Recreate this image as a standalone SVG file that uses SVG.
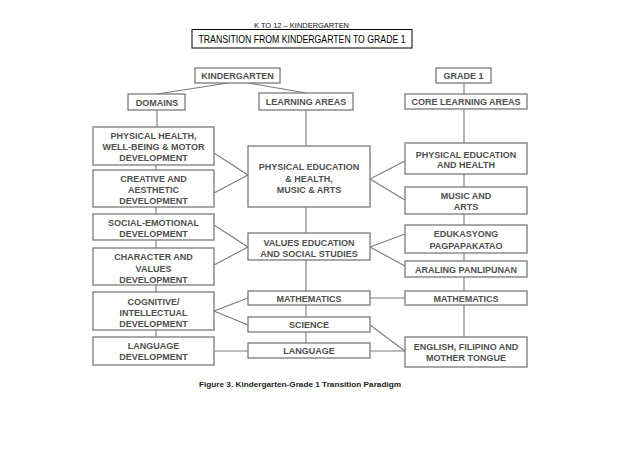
<svg xmlns="http://www.w3.org/2000/svg" width="638" height="452" viewBox="0 0 638 452">
<style>
.bg{fill:#fff}
.box{fill:#fff;stroke:#7a7a7a;stroke-width:1.3}
.tbox{fill:#fff;stroke:#000;stroke-width:1}
.lbl{font-family:"Liberation Sans",Arial,sans-serif;font-weight:bold;font-size:9px;fill:#505050;text-anchor:middle}
.con line,.con polyline{stroke:#7a7a7a;stroke-width:1.1;fill:none}
.hdr{font-family:"Liberation Sans",Arial,sans-serif;font-size:7.5px;fill:#111;text-anchor:middle}
.ttl{font-family:"Liberation Sans",Arial,sans-serif;font-size:11px;fill:#000;text-anchor:middle}
.cap{font-family:"Liberation Sans",Arial,sans-serif;font-weight:bold;font-size:8px;fill:#222;text-anchor:middle}
</style>
<rect class="bg" x="0" y="0" width="638" height="452"/>
<g id="header">
<text class="hdr" x="301.5" y="28" textLength="95" lengthAdjust="spacingAndGlyphs">K TO 12 – KINDERGARTEN</text>
<rect class="tbox" x="192" y="29.5" width="220" height="18.5"/>
<text class="ttl" x="302" y="42.5" textLength="207" lengthAdjust="spacingAndGlyphs">TRANSITION FROM KINDERGARTEN TO GRADE 1</text>
</g>
<g class="con" id="connectors">
<line x1="228" y1="83" x2="157" y2="94"/>
<line x1="248" y1="83" x2="306" y2="93"/>
<line x1="157" y1="110" x2="157" y2="127"/>
<line x1="156" y1="165" x2="156" y2="170"/>
<line x1="156" y1="207" x2="156" y2="214"/>
<line x1="156" y1="240" x2="156" y2="248"/>
<line x1="156" y1="285" x2="156" y2="292"/>
<line x1="156" y1="330" x2="156" y2="337"/>
<line x1="306" y1="110" x2="306" y2="146"/>
<line x1="306" y1="207" x2="306" y2="233"/>
<line x1="306" y1="260" x2="306" y2="291"/>
<line x1="306" y1="305" x2="306" y2="317"/>
<line x1="306" y1="332" x2="306" y2="343"/>
<line x1="464" y1="83" x2="464" y2="94"/>
<line x1="464" y1="109" x2="464" y2="143"/>
<line x1="464" y1="174" x2="464" y2="187"/>
<line x1="464" y1="214" x2="464" y2="225"/>
<line x1="464" y1="253" x2="464" y2="261"/>
<line x1="464" y1="277" x2="464" y2="291"/>
<line x1="464" y1="305" x2="464" y2="337"/>
<polyline points="214,153 248,175 214,193"/>
<polyline points="214,225 248,247 214,265"/>
<polyline points="248,298 214,311 248,325"/>
<line x1="214" y1="351" x2="248" y2="351"/>
<polyline points="405,161 370,179 405,200"/>
<polyline points="405,234 370,247 405,266"/>
<line x1="370" y1="298" x2="405" y2="298"/>
<line x1="370" y1="325" x2="405" y2="351"/>
<line x1="370" y1="351" x2="405" y2="351"/>
</g>
<g id="kindergarten"><rect class="box" x="195" y="68" width="85" height="15"/><text class="lbl" x="237.5" y="79">KINDERGARTEN</text></g>
<g id="domains"><rect class="box" x="128" y="94" width="57" height="16"/><text class="lbl" x="157" y="105.5">DOMAINS</text></g>
<g id="learning-areas"><rect class="box" x="259" y="93" width="94" height="17"/><text class="lbl" x="306" y="105">LEARNING AREAS</text></g>
<g id="grade1"><rect class="box" x="436" y="68" width="55" height="15"/><text class="lbl" x="463.5" y="79">GRADE 1</text></g>
<g id="core-learning-areas"><rect class="box" x="405" y="94" width="122" height="15"/><text class="lbl" x="466" y="105">CORE LEARNING AREAS</text></g>

<g id="d-physical"><rect class="box" x="93" y="127" width="121" height="38"/>
<text class="lbl" x="153.5" y="139">PHYSICAL HEALTH,</text><text class="lbl" x="153.5" y="150">WELL-BEING &amp; MOTOR</text><text class="lbl" x="153.5" y="161">DEVELOPMENT</text></g>
<g id="d-creative"><rect class="box" x="93" y="170" width="121" height="37"/>
<text class="lbl" x="153.5" y="181.5">CREATIVE AND</text><text class="lbl" x="153.5" y="193">AESTHETIC</text><text class="lbl" x="153.5" y="204">DEVELOPMENT</text></g>
<g id="d-social"><rect class="box" x="93" y="214" width="121" height="26"/>
<text class="lbl" x="153.5" y="225.5">SOCIAL-EMOTIONAL</text><text class="lbl" x="153.5" y="236.5">DEVELOPMENT</text></g>
<g id="d-character"><rect class="box" x="93" y="248" width="121" height="37"/>
<text class="lbl" x="153.5" y="260">CHARACTER AND</text><text class="lbl" x="153.5" y="271.5">VALUES</text><text class="lbl" x="153.5" y="282.5">DEVELOPMENT</text></g>
<g id="d-cognitive"><rect class="box" x="93" y="292" width="121" height="38"/>
<text class="lbl" x="153.5" y="305">COGNITIVE/</text><text class="lbl" x="153.5" y="316">INTELLECTUAL</text><text class="lbl" x="153.5" y="326.5">DEVELOPMENT</text></g>
<g id="d-language"><rect class="box" x="93" y="337" width="121" height="28"/>
<text class="lbl" x="153.5" y="349">LANGUAGE</text><text class="lbl" x="153.5" y="360">DEVELOPMENT</text></g>

<g id="la-pe"><rect class="box" x="248" y="146" width="122" height="61"/>
<text class="lbl" x="309" y="170">PHYSICAL EDUCATION</text><text class="lbl" x="309" y="181.5">&amp; HEALTH,</text><text class="lbl" x="309" y="192.5">MUSIC &amp; ARTS</text></g>
<g id="la-values"><rect class="box" x="248" y="233" width="122" height="27"/>
<text class="lbl" x="309" y="245.5">VALUES EDUCATION</text><text class="lbl" x="309" y="257">AND SOCIAL STUDIES</text></g>
<g id="la-math"><rect class="box" x="248" y="291" width="122" height="14"/><text class="lbl" x="309" y="301.5">MATHEMATICS</text></g>
<g id="la-science"><rect class="box" x="248" y="317" width="122" height="15"/><text class="lbl" x="309" y="327.5">SCIENCE</text></g>
<g id="la-language"><rect class="box" x="248" y="343" width="122" height="15"/><text class="lbl" x="309" y="354">LANGUAGE</text></g>

<g id="g1-pe"><rect class="box" x="405" y="143" width="122" height="31"/>
<text class="lbl" x="466" y="157.5">PHYSICAL EDUCATION</text><text class="lbl" x="466" y="168">AND HEALTH</text></g>
<g id="g1-music"><rect class="box" x="405" y="187" width="122" height="27"/>
<text class="lbl" x="466" y="198.5">MUSIC AND</text><text class="lbl" x="466" y="209.5">ARTS</text></g>
<g id="g1-edukasyong"><rect class="box" x="405" y="225" width="122" height="28"/>
<text class="lbl" x="466" y="237">EDUKASYONG</text><text class="lbl" x="466" y="249">PAGPAPAKATAO</text></g>
<g id="g1-araling"><rect class="box" x="405" y="261" width="122" height="16"/><text class="lbl" x="466" y="273">ARALING PANLIPUNAN</text></g>
<g id="g1-math"><rect class="box" x="405" y="291" width="122" height="14"/><text class="lbl" x="466" y="301.5">MATHEMATICS</text></g>
<g id="g1-english"><rect class="box" x="405" y="337" width="122" height="30"/>
<text class="lbl" x="466" y="350">ENGLISH, FILIPINO AND</text><text class="lbl" x="466" y="361">MOTHER TONGUE</text></g>

<g id="caption"><text class="cap" x="300" y="387" textLength="202" lengthAdjust="spacingAndGlyphs">Figure 3. Kindergarten-Grade 1 Transition Paradigm</text></g>
</svg>
